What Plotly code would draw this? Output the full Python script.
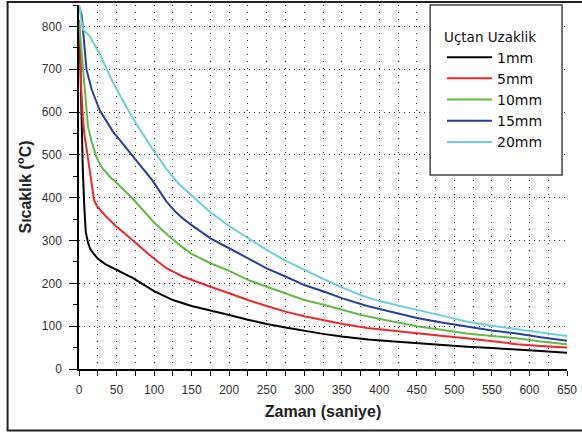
import plotly.graph_objects as go

# ---- data ----
x_1mm = [0, 1, 2, 3, 5, 7, 9, 12, 15, 20, 25, 35, 50, 72, 100, 125, 150, 175, 200, 225, 250,
         275, 300, 325, 350, 385, 420, 450, 485, 517, 550, 583, 615, 650]
y_1mm = [765, 762, 700, 600, 470, 380, 320, 295, 280, 268, 258, 245, 231, 212, 182, 161, 147,
         137, 126, 115, 105, 97, 89, 82, 76, 69, 64, 60, 56, 52, 49, 46, 42, 38]

x_5mm = [0, 1, 2, 3, 5, 7, 10, 13, 16, 20, 24, 29, 35, 49, 60, 72, 94, 116, 138, 150, 175, 200,
         225, 250, 275, 300, 326, 351, 384, 420, 450, 485, 516, 550, 583, 615, 650]
y_5mm = [815, 790, 720, 650, 590, 550, 515, 480, 440, 395, 380, 370, 358, 334, 318, 300, 266,
         236, 216, 208, 192, 177, 161, 147, 134, 123, 113, 105, 96, 89, 83, 77, 72, 65, 58, 54, 50]

x_10mm = [0, 1, 2, 3.5, 6, 8, 12, 17, 23, 30, 41, 50, 58, 72, 100, 120, 138, 150, 160, 175, 200,
          225, 250, 275, 300, 326, 351, 376, 401, 422, 450, 485, 516, 550, 583, 615, 650]
y_10mm = [810, 790, 775, 753, 690, 644, 566, 530, 496, 472, 449, 435, 422, 397, 342, 310, 284,
          269, 260, 247, 229, 208, 192, 177, 161, 150, 138, 126, 117, 110, 100, 91, 83, 77, 72,
          64, 58]

x_15mm = [0, 1, 2, 3.5, 5.7, 8, 10, 17, 28, 45, 63, 80, 98, 107, 116, 128, 138, 150, 175, 200,
          225, 250, 275, 300, 326, 351, 384, 422, 450, 485, 516, 550, 583, 615, 650]
y_15mm = [845, 840, 835, 827, 784, 730, 699, 652, 603, 555, 515, 478, 440, 416, 392, 368, 352,
          336, 305, 282, 259, 235, 216, 196, 181, 165, 147, 130, 119, 108, 99, 90, 83, 74, 66]

x_20mm = [0, 1, 3, 5.7, 10, 14.5, 28, 45, 63, 80, 98, 116, 133, 150, 175, 200, 225, 250, 275,
          300, 326, 351, 376, 401, 422, 450, 485, 516, 550, 583, 615, 650]
y_20mm = [850, 846, 815, 792, 785, 777, 734, 670, 612, 562, 514, 468, 432, 405, 366, 334, 305,
          278, 253, 231, 210, 190, 172, 158, 149, 138, 124, 111, 101, 93, 85, 77]

series_names = ["1mm", "5mm", "10mm", "15mm", "20mm"]
series_x = [x_1mm, x_5mm, x_10mm, x_15mm, x_20mm]
series_y = [y_1mm, y_5mm, y_10mm, y_15mm, y_20mm]
series_colors = ["#000000", "#f02828", "#62b946", "#27409b", "#6ccfd9"]

x_title = "Zaman (saniye)"
y_title = "Sıcaklık (<sup>o</sup>C)"
legend_title = "Uçtan Uzaklik"

# ---- figure ----
fig = go.Figure()
for name, xs, ys, col in zip(series_names, series_x, series_y, series_colors):
    fig.add_trace(go.Scatter(x=xs, y=ys, mode="lines", name=name,
                             line=dict(color=col, width=2)))

L, R, T, B = 79, 11, 5, 67
W, H = 582, 436
pw, ph = W - L - R, H - T - B


def px_x(px):
    return (px - L) / pw


def px_y(py):
    return (H - B - py) / ph


font_family = "Liberation Sans, Arial, sans-serif"
legend_font = "DejaVu Sans, sans-serif"
grid_col = "#333"

fig.update_layout(
    width=W, height=H,
    margin=dict(l=L, r=R, t=T, b=B),
    paper_bgcolor="white", plot_bgcolor="white",
    font=dict(family=font_family, size=12, color="#333"),
    showlegend=True,
    legend=dict(
        x=px_x(445), y=px_y(24), xanchor="left", yanchor="top",
        bgcolor="rgba(0,0,0,0)", borderwidth=0,
        title=dict(text=legend_title, font=dict(size=13.5, color="#111", family=legend_font)),
        font=dict(size=14, color="#111", family=legend_font),
        itemwidth=45,
        tracegroupgap=0,
    ),
    xaxis=dict(
        range=[0, 650], dtick=50, tick0=0,
        showline=True, linecolor="black", linewidth=1.5, mirror=False,
        ticks="outside", ticklen=5, tickwidth=1.2, tickcolor="black",
        ticklabelstandoff=4,
        showgrid=True, gridcolor=grid_col, griddash="1px,6px", gridwidth=1,
        zeroline=False,
        minor=dict(dtick=25, ticks="outside", ticklen=5, tickwidth=1.2, tickcolor="black",
                   showgrid=True, gridcolor=grid_col, griddash="1px,6px", gridwidth=1),
        tickfont=dict(size=12, color="#333"),
        title=dict(text="<b>" + x_title + "</b>",
                   font=dict(size=16, color="#222", family=font_family), standoff=10),
    ),
    yaxis=dict(
        range=[0, 850], dtick=100, tick0=0,
        showline=True, linecolor="black", linewidth=1.5, mirror=False,
        ticks="outside", ticklen=8, tickwidth=1.2, tickcolor="black",
        ticklabelstandoff=5,
        showgrid=True, gridcolor=grid_col, griddash="1px,4px", gridwidth=1,
        zeroline=False,
        minor=dict(dtick=50, ticks="outside", ticklen=4, tickwidth=1.2, tickcolor="black",
                   showgrid=False),
        tickfont=dict(size=12, color="#333"),
        title=dict(text="<b>" + y_title + "</b>",
                   font=dict(size=16, color="#222", family=font_family), standoff=6),
    ),
)

# legend frame and outer frame
fig.add_shape(type="rect", xref="paper", yref="paper",
              x0=px_x(433), x1=px_x(566), y0=px_y(175), y1=px_y(5),
              line=dict(color="#444", width=1.5), fillcolor="white", layer="above")
fig.add_shape(type="rect", xref="paper", yref="paper",
              x0=px_x(7), x1=px_x(590), y0=px_y(430.5), y1=px_y(2),
              line=dict(color="#222", width=2), fillcolor="rgba(0,0,0,0)", layer="above")

fig.write_html("out.html")
